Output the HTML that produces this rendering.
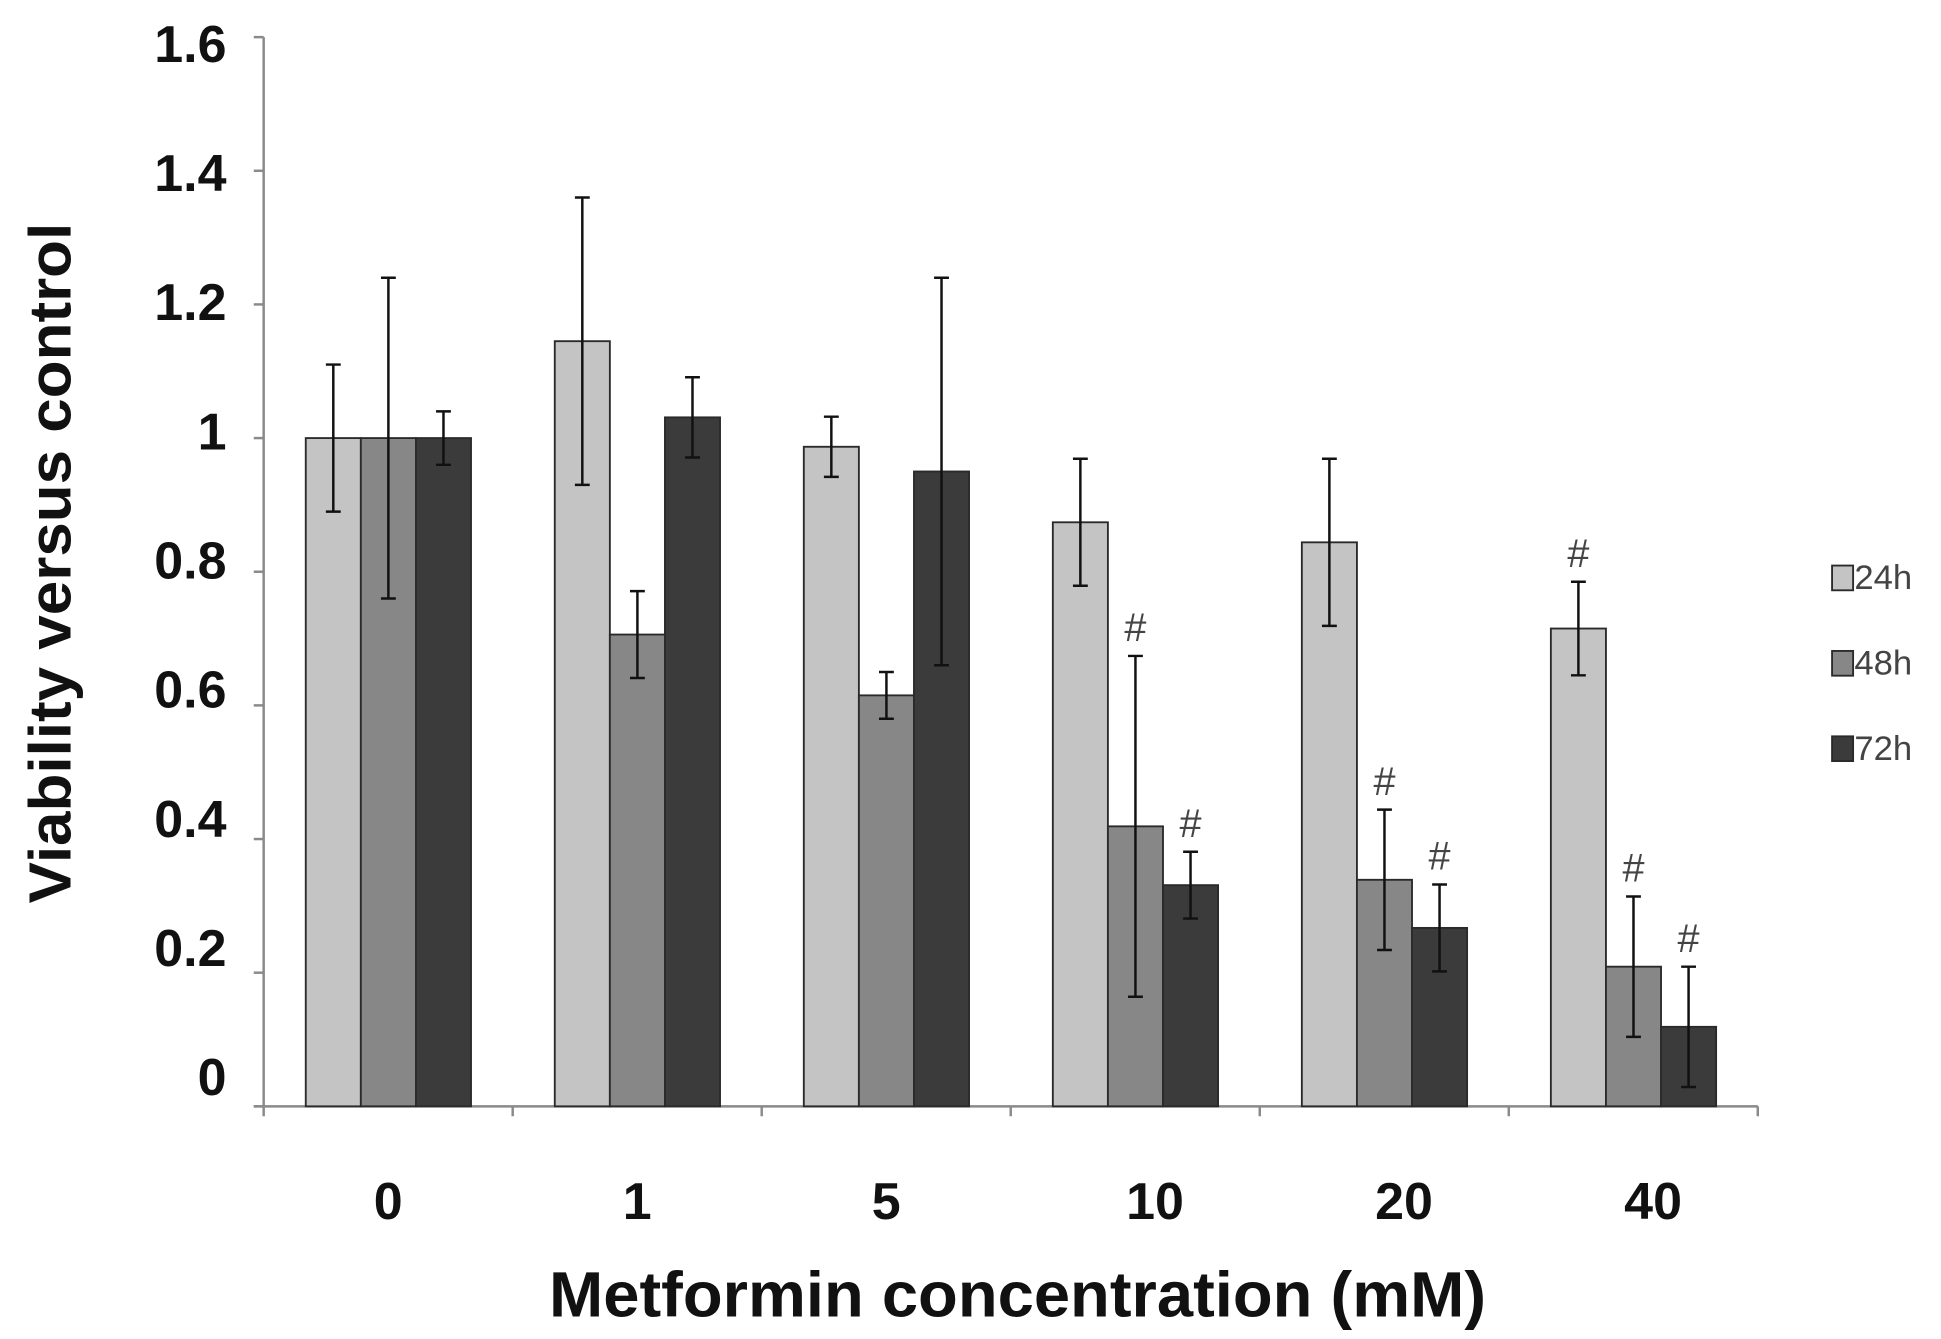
<!DOCTYPE html>
<html><head><meta charset="utf-8"><style>
html,body{margin:0;padding:0;background:#fff;}
svg{display:block;}
text{font-family:"Liberation Sans",sans-serif;}
</style></head><body>
<svg id="chart" width="1941" height="1339" viewBox="0 0 1568 1082" preserveAspectRatio="none" xmlns="http://www.w3.org/2000/svg"></svg>
<script>
const categories = ["0","1","5","10","20","40"];
const seriesNames = ["24h","48h","72h"];
const values24 = [1, 1.145, 0.987, 0.874, 0.844, 0.715];
const values48 = [1, 0.706, 0.615, 0.419, 0.339, 0.209];
const values72 = [1, 1.031, 0.95, 0.331, 0.267, 0.119];
const err24 = [0.11, 0.215, 0.045, 0.095, 0.125, 0.07];
const err48 = [0.24, 0.065, 0.035, 0.255, 0.105, 0.105];
const err72 = [0.04, 0.06, 0.29, 0.05, 0.065, 0.09];
const hash24 = [false,false,false,false,false,true];
const hash48 = [false,false,false,true,true,true];
const hash72 = [false,false,false,true,true,true];
const yTicks = [0,0.2,0.4,0.6,0.8,1,1.2,1.4,1.6];
const yTickLabels = ["0","0.2","0.4","0.6","0.8","1","1.2","1.4","1.6"];

const NS="http://www.w3.org/2000/svg";
const svg=document.getElementById('chart');
const X0=213,X1=1420,Y0=894,Y1=30,YMAX=1.6;
const groupW=(X1-X0)/categories.length;
const barW=44.5;
function y(v){return Y0-(v/YMAX)*(Y0-Y1);}
function ly(v){return 35+(YMAX-v)/YMAX*835;}
function gx(i){return X0+i*groupW;}
function mk(tag,attrs){const e=document.createElementNS(NS,tag);for(const k in attrs)e.setAttribute(k,attrs[k]);svg.appendChild(e);return e;}

let ax=mk('line',{x1:X0,y1:Y1,x2:X0,y2:Y0,stroke:'#8a8a8a','stroke-width':2});


yTicks.forEach((t,i)=>{
  let tk=mk('line',{x1:X0-8,y1:y(t),x2:X0,y2:y(t),stroke:'#8a8a8a','stroke-width':2});
  
  
  let tl=mk('text',{x:183,y:ly(t)+15,'text-anchor':'end','font-size':42,'font-weight':'bold',fill:'#111'});
  tl.textContent=yTickLabels[i];
  
  
});
let xa=mk('line',{x1:X0-8,y1:Y0,x2:X1,y2:Y0,stroke:'#8a8a8a','stroke-width':2});


for(let i=0;i<=categories.length;i++){
  let tk=mk('line',{x1:gx(i),y1:Y0,x2:gx(i),y2:Y0+8,stroke:'#8a8a8a','stroke-width':2});
  
  
}
const series=[
  {v:values24,e:err24,h:hash24,c:'#c4c4c4',n:'24h'},
  {v:values48,e:err48,h:hash48,c:'#878787',n:'48h'},
  {v:values72,e:err72,h:hash72,c:'#3b3b3b',n:'72h'}];
categories.forEach((cat,i)=>{
  const start=gx(i)+34;
  series.forEach((s,j)=>{
    const bx=start+j*barW, cx=bx+barW/2;
    let r=mk('rect',{x:bx,y:y(s.v[i]),width:barW,height:Y0-y(s.v[i]),fill:s.c,stroke:'#2a2a2a','stroke-width':1.5});
    
    
    const top=y(s.v[i]+s.e[i]), bot=y(s.v[i]-s.e[i]);
    let el=mk('path',{d:`M${cx},${top}V${bot}M${cx-6},${top}H${cx+6}M${cx-6},${bot}H${cx+6}`,stroke:'#111','stroke-width':2,fill:'none'});
    
    
    if(s.h[i]){
      let ht=mk('text',{x:cx,y:top-12,'text-anchor':'middle','font-size':32,fill:'#444'});
      ht.textContent='#';
      
      
    }
  });
  let xl=mk('text',{x:gx(i)+groupW/2+(i>=3?16:0),y:985,'text-anchor':'middle','font-size':42,'font-weight':'bold',fill:'#111'});
  xl.textContent=cat;
  
  
});
let xt=mk('text',{x:822,y:1064,'text-anchor':'middle','font-size':52,'font-weight':'bold',fill:'#111',textLength:757,lengthAdjust:'spacingAndGlyphs'});
xt.textContent='Metformin concentration (mM)';


let yt=mk('text',{x:0,y:0,'text-anchor':'middle','font-size':48,'font-weight':'bold',fill:'#111',textLength:550,lengthAdjust:'spacingAndGlyphs',transform:'translate(57,455) rotate(-90)'});
yt.textContent='Viability versus control';


series.forEach((s,j)=>{
  const lyy=457+j*69;
  let sq=mk('rect',{x:1480,y:lyy,width:17,height:20,fill:s.c,stroke:'#2a2a2a','stroke-width':1.5});
  
  
  let lt=mk('text',{x:1498,y:lyy+19,'font-size':28,fill:'#444'});
  lt.textContent=seriesNames[j];
  
  
});
</script>
</body></html>
